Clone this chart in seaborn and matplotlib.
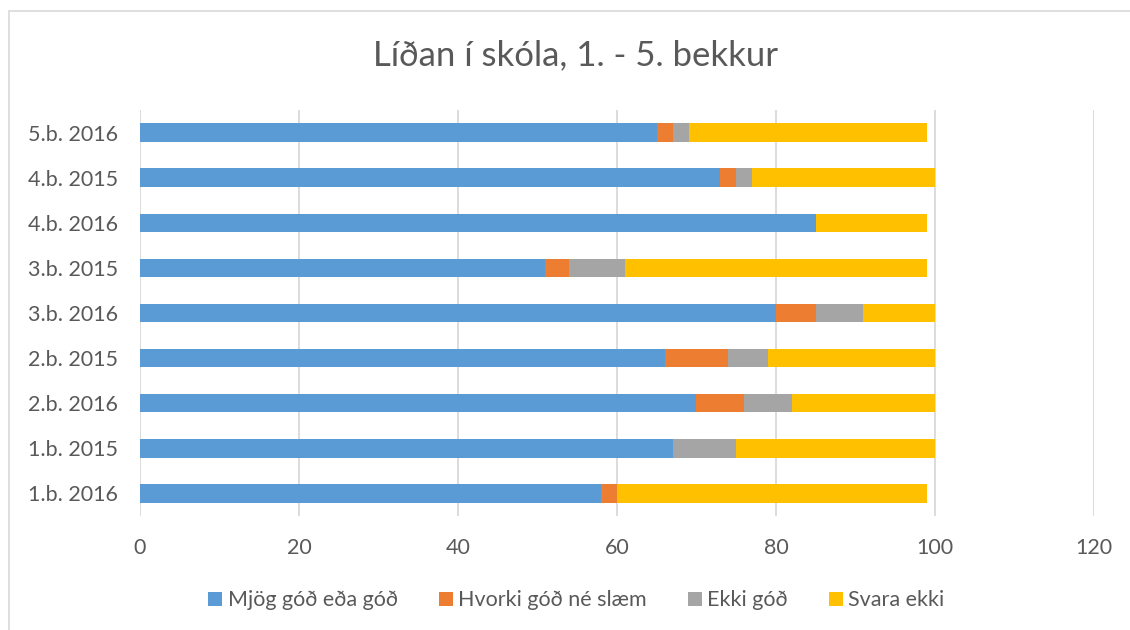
import pandas as pd
import seaborn as sns
import matplotlib.pyplot as plt
from matplotlib.patches import Rectangle, Patch

groups = ["5.b. 2016", "4.b. 2015", "4.b. 2016", "3.b. 2015", "3.b. 2016",
          "2.b. 2015", "2.b. 2016", "1.b. 2015", "1.b. 2016"]
mjog_god = [65, 73, 85, 51, 80, 66, 70, 67, 58]
hvorki = [2, 2, 0, 3, 5, 8, 6, 0, 2]
ekki_god = [2, 2, 0, 7, 6, 5, 6, 8, 0]
svara_ekki = [30, 23, 14, 38, 9, 21, 18, 25, 39]

series_names = ["Mjög góð eða góð", "Hvorki góð né slæm", "Ekki góð", "Svara ekki"]
colors = ["#5B9BD5", "#ED7D31", "#A5A5A5", "#FFC000"]

df = pd.DataFrame({"group": groups, series_names[0]: mjog_god, series_names[1]: hvorki,
                   series_names[2]: ekki_god, series_names[3]: svara_ekki})
cum = df[series_names].cumsum(axis=1)

sns.set_style("white")
plt.rcParams["font.family"] = ["Lato", "DejaVu Sans"]
txt = "#595959"

fig = plt.figure(figsize=(11.3, 6.3), dpi=100)
ax = fig.add_axes([0.1239, 0.181, 0.8442, 0.6444])

# draw cumulative totals back to front to get stacked bars
for name, col in reversed(list(zip(series_names, colors))):
    sns.barplot(x=cum[name], y=df["group"], orient="y", color=col, width=0.41,
                linewidth=0, saturation=1, ax=ax)

ax.set_xlim(0, 120)
ax.set_xticks(range(0, 121, 20))
ax.grid(axis="x", color="#D9D9D9", linewidth=1.3)
ax.set_axisbelow(True)
for s in ax.spines.values():
    s.set_visible(False)
ax.set_xlabel("")
ax.set_ylabel("")
ax.tick_params(axis="both", length=0, labelsize=15.5, colors=txt)
ax.tick_params(axis="x", pad=16)
ax.tick_params(axis="y", pad=16)

fig.text(0.509, 0.912, "Líðan í skóla, 1. - 5. bekkur", ha="center", va="center",
         fontsize=25, color=txt)

handles = [Patch(facecolor=c, edgecolor="none") for c in colors]
fig.legend(handles, series_names, loc="center", bbox_to_anchor=(0.510, 0.047), ncol=4,
           frameon=False, fontsize=15.5, labelcolor=txt, handlelength=0.65,
           handleheight=0.65, handletextpad=0.25, columnspacing=1.9)

fig.patches.append(Rectangle((9 / 1130, -0.05), 1.2, 1 - 11 / 630 + 0.05,
                             transform=fig.transFigure, fill=False,
                             edgecolor="#D9D9D9", linewidth=1.2))

fig.savefig("out.png", dpi=100)
